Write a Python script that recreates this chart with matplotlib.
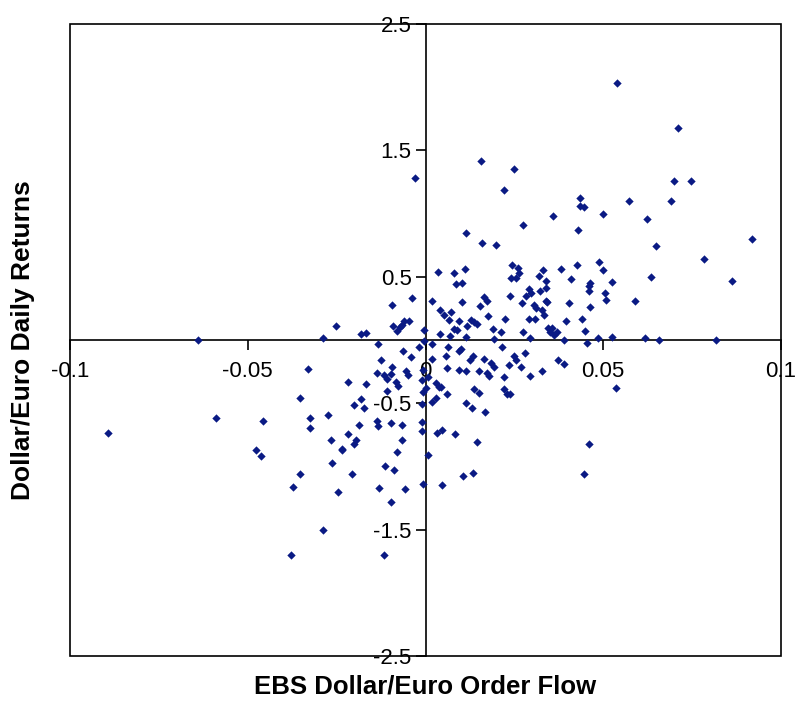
import matplotlib
matplotlib.use("Agg")
import matplotlib.pyplot as plt
from matplotlib.patches import Rectangle

plt.rcParams['font.family'] = ['Liberation Sans', 'DejaVu Sans']

# EBS order flow (x) vs dollar/euro daily returns (y)
order_flow = [
    0.054, 0.071, 0.0157, 0.025, -0.0029, 0.070, 0.0746, 0.022, 0.0435, 0.0573,
    0.069, 0.0435, 0.0445, 0.0359, 0.0498, 0.0622, 0.0274, 0.0428, 0.0113, 0.0919,
    0.0158, 0.0197, 0.0649, 0.0783, 0.0489, 0.0243, 0.0427, 0.026, 0.0263, 0.0331,
    0.0382, 0.0499, 0.0034, 0.008, 0.0111, 0.0318, 0.0633, 0.0241, 0.0254, 0.0408,
    0.0863, 0.0462, 0.0526, 0.0338, 0.0086, 0.0103, 0.0291, 0.046, 0.0298, 0.0322,
    0.0504, 0.0237, 0.0282, -0.0039, 0.0019, 0.0165, 0.0174, 0.034, 0.0405, 0.0508,
    0.0589, 0.0104, -0.0093, 0.0271, 0.0305, 0.0311, 0.0154, 0.0462, 0.004, 0.0071,
    0.0328, 0.0175, 0.0053, 0.0332, 0.0066, 0.0224, 0.0291, 0.0308, 0.0394, 0.0441,
    0.0093, 0.0127, 0.0137, 0.0146, 0.0118, -0.0061, -0.0047, -0.0067, -0.0091, -0.008,
    -0.0073, -0.0253, -0.0181, -0.0168, -0.0288, -0.064, 0.008, 0.009, -0.0003, 0.004,
    0.0068, 0.019, 0.0213, 0.0275, 0.0344, 0.0357, 0.035, 0.0369, 0.0361, 0.0449,
    0.0295, 0.0486, 0.0524, 0.0618, 0.0656, 0.0816, 0.0389, 0.0114, 0.0194, 0.0455,
    -0.0133, -0.0019, 0.0017, 0.010, 0.0214, 0.0094, 0.0057, 0.0133, 0.0164, 0.0126,
    0.0248, 0.0255, 0.0281, 0.0372, 0.0389, -0.004, -0.0124, 0.0061, 0.0185, 0.0194,
    0.015, 0.0174, 0.0178, 0.0268, 0.0328, 0.0221, 0.0295, 0.0094, 0.0113, -0.0056,
    -0.005, -0.0006, 0.0007, -0.001, 0.0029, 0.0039, 0.0043, 0.0, -0.0007, -0.0331,
    -0.0136, -0.0118, -0.0107, -0.0098, -0.0083, -0.0077, -0.0167, -0.0217, -0.0181, -0.02,
    -0.0174, -0.0354, 0.0061, 0.0137, 0.0151, 0.0221, 0.023, 0.0237, 0.0536, 0.0113,
    0.0131, 0.0168, 0.0017, -0.001, -0.0325, -0.0325, -0.0275, -0.0589, -0.0456, -0.0894,
    -0.0136, -0.0134, -0.0098, -0.0066, -0.0011, -0.001, 0.0031, 0.0046, 0.0083, -0.0188,
    -0.0218, -0.0267, -0.0195, -0.02, -0.0234, -0.0235, -0.0067, -0.0478, -0.0462, -0.008,
    0.0146, 0.0461, 0.0007, -0.0262, -0.0114, -0.009, -0.0208, -0.0354, 0.0106, 0.0134,
    0.0445, -0.0006, 0.0047, -0.0374, -0.0131, -0.0058, -0.0247, -0.0096, -0.0288, -0.0378,
    -0.0118, -0.0004, 0.0017, 0.0064, -0.0062, 0.0029, 0.0461, 0.0339, 0.0341, -0.0109,
    0.0236, -0.0095,
]
daily_returns = [
    2.03, 1.68, 1.42, 1.35, 1.28, 1.26, 1.26, 1.19, 1.12, 1.10,
    1.10, 1.06, 1.05, 0.98, 1.00, 0.96, 0.91, 0.87, 0.85, 0.80,
    0.77, 0.75, 0.74, 0.64, 0.62, 0.59, 0.59, 0.57, 0.53, 0.55,
    0.56, 0.55, 0.54, 0.53, 0.56, 0.51, 0.50, 0.49, 0.49, 0.48,
    0.47, 0.45, 0.46, 0.47, 0.44, 0.45, 0.40, 0.39, 0.375, 0.39,
    0.375, 0.35, 0.35, 0.33, 0.31, 0.34, 0.31, 0.31, 0.29, 0.32,
    0.31, 0.30, 0.28, 0.29, 0.28, 0.255, 0.27, 0.265, 0.24, 0.22,
    0.24, 0.19, 0.195, 0.20, 0.16, 0.17, 0.17, 0.17, 0.15, 0.17,
    0.15, 0.16, 0.145, 0.13, 0.11, 0.15, 0.15, 0.12, 0.11, 0.07,
    0.10, 0.11, 0.046, 0.053, 0.018, 0.0, 0.09, 0.08, 0.08, 0.046,
    0.03, 0.085, 0.067, 0.067, 0.096, 0.096, 0.06, 0.06, 0.042, 0.07,
    0.018, 0.018, 0.02, 0.014, 0.0, 0.0, 0.0, 0.025, 0.007, -0.02,
    -0.03, -0.057, -0.028, -0.074, -0.057, -0.089, -0.127, -0.124, -0.149, -0.16,
    -0.124, -0.156, -0.10, -0.156, -0.188, -0.135, -0.156, -0.22, -0.18, -0.21,
    -0.244, -0.262, -0.283, -0.216, -0.248, -0.29, -0.287, -0.24, -0.244, -0.248,
    -0.276, -0.24, -0.294, -0.319, -0.34, -0.372, -0.368, -0.38, -0.41, -0.227,
    -0.258, -0.276, -0.305, -0.27, -0.333, -0.365, -0.35, -0.336, -0.464, -0.517,
    -0.538, -0.46, -0.425, -0.39, -0.42, -0.39, -0.425, -0.43, -0.38, -0.50,
    -0.538, -0.57, -0.49, -0.506, -0.616, -0.70, -0.59, -0.616, -0.644, -0.733,
    -0.64, -0.68, -0.66, -0.67, -0.65, -0.72, -0.737, -0.715, -0.74, -0.67,
    -0.747, -0.79, -0.793, -0.825, -0.86, -0.87, -0.79, -0.867, -0.92, -0.885,
    -0.81, -0.825, -0.91, -0.977, -1.0, -1.027, -1.06, -1.06, -1.073, -1.05,
    -1.06, -1.137, -1.147, -1.16, -1.172, -1.18, -1.20, -1.28, -1.505, -1.70,
    -1.70, -0.005, -0.15, -0.058, -0.085, -0.46, 0.43, 0.41, 0.30, -0.40,
    -0.198, -0.216,
]

x_ticks = [-0.1, -0.05, 0, 0.05, 0.1]
x_labels = ["-0.1", "-0.05", "0", "0.05", "0.1"]
y_ticks = [-2.5, -1.5, -0.5, 0.5, 1.5, 2.5]
y_labels = ["-2.5", "-1.5", "-0.5", "0.5", "1.5", "2.5"]

fig = plt.figure(figsize=(7.95, 7.01), dpi=100)
ax = fig.add_axes([70/795, 1 - 656/701, 711/795, 632/701])

ax.scatter(order_flow, daily_returns, marker='D', s=18, color='#0a1a84',
           linewidths=0, zorder=3)

ax.set_xlim(-0.1, 0.1)
ax.set_ylim(-2.5, 2.5)

# axes cross at the origin, outer box drawn separately
ax.spines['left'].set_position(('data', 0))
ax.spines['bottom'].set_position(('data', 0))
ax.spines['top'].set_visible(False)
ax.spines['right'].set_visible(False)
for side in ['left', 'bottom']:
    ax.spines[side].set_linewidth(1.2)
ax.add_patch(Rectangle((0, 0), 1, 1, transform=ax.transAxes, fill=False,
                       lw=1.2, edgecolor='black', clip_on=False, zorder=4))

ax.set_xticks(x_ticks)
ax.set_xticklabels(x_labels)
ax.set_yticks(y_ticks)
ax.set_yticklabels(y_labels)
ax.tick_params(direction='out', length=7, width=1.2, labelsize=16, pad=3)
ax.tick_params(axis='x', pad=8)

fig.text(425/795, 1 - 687/701, "EBS Dollar/Euro Order Flow", ha='center',
         va='center', fontsize=18.5, fontweight='bold')
fig.text(23/795, 1 - 340/701, "Dollar/Euro Daily Returns", ha='center',
         va='center', rotation=90, fontsize=19, fontweight='bold')

fig.savefig("out.png", dpi=100)
